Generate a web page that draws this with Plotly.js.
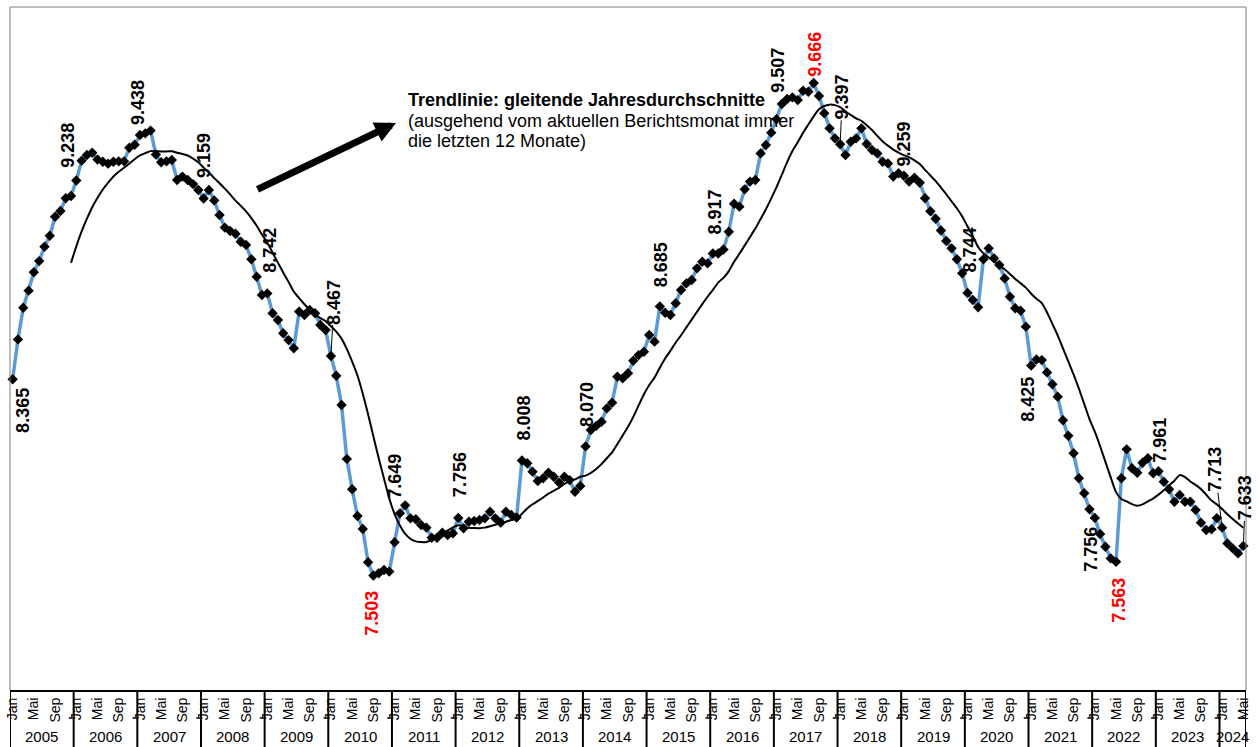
<!DOCTYPE html>
<html>
<head>
<meta charset="utf-8">
<script src="https://cdn.plot.ly/plotly-3.0.1.min.js"></script>
<style>html,body{margin:0;padding:0;background:#fff;}#chart{width:1259px;height:747px;}</style>
</head>
<body>
<div id="chart"></div>
<script>
// ---- DATA ----
const years = ['2005','2006','2007','2008','2009','2010','2011','2012','2013','2014','2015','2016','2017','2018','2019','2020','2021','2022','2023','2024'];
const monthNames = ['Jan','Feb','Mrz','Apr','Mai','Jun','Jul','Aug','Sep','Okt','Nov','Dez'];
const shownMonths = ['Jan','Mai','Sep'];

const v2005 = [8365, 8540, 8679, 8754, 8835, 8884, 8947, 8995, 9079, 9104, 9160, 9170];
const v2006 = [9238, 9325, 9350, 9360, 9330, 9320, 9312, 9320, 9322, 9322, 9382, 9395];
const v2007 = [9438, 9445, 9457, 9352, 9318, 9322, 9328, 9240, 9255, 9240, 9222, 9196];
const v2008 = [9159, 9196, 9150, 9086, 9031, 9016, 9004, 8969, 8955, 8892, 8815, 8735];
const v2009 = [8742, 8655, 8625, 8567, 8537, 8501, 8662, 8647, 8669, 8655, 8603, 8581];
const v2010 = [8467, 8380, 8252, 8015, 7882, 7764, 7707, 7561, 7503, 7513, 7527, 7520];
const v2011 = [7649, 7776, 7811, 7754, 7750, 7725, 7713, 7669, 7669, 7691, 7681, 7688];
const v2012 = [7756, 7710, 7739, 7742, 7747, 7754, 7783, 7754, 7735, 7783, 7769, 7758];
const v2013 = [8008, 7996, 7959, 7918, 7930, 7954, 7937, 7911, 7937, 7922, 7871, 7896];
const v2014 = [8070, 8142, 8160, 8178, 8237, 8262, 8376, 8369, 8391, 8446, 8471, 8486];
const v2015 = [8559, 8530, 8685, 8657, 8647, 8699, 8757, 8786, 8801, 8852, 8881, 8874];
const v2016 = [8917, 8917, 8935, 9013, 9136, 9123, 9199, 9233, 9240, 9357, 9394, 9448];
const v2017 = [9507, 9574, 9596, 9603, 9591, 9632, 9628, 9666, 9609, 9533, 9467, 9423];
const v2018 = [9397, 9350, 9408, 9423, 9467, 9398, 9372, 9357, 9320, 9313, 9255, 9270];
const v2019 = [9259, 9233, 9250, 9228, 9160, 9103, 9070, 9018, 8972, 8940, 8892, 8830];
const v2020 = [8744, 8713, 8681, 8892, 8940, 8896, 8867, 8808, 8727, 8677, 8666, 8596];
const v2021 = [8425, 8452, 8449, 8395, 8343, 8288, 8185, 8117, 8040, 7930, 7864, 7794];
const v2022 = [7756, 7685, 7629, 7578, 7563, 7930, 8057, 7974, 7954, 7998, 8018, 7952];
const v2023 = [7961, 7915, 7882, 7827, 7857, 7827, 7827, 7791, 7735, 7703, 7706, 7755];
const v2024 = [7713, 7644, 7622, 7600, 7633];

// months that carry a value label (index into the monthly series)
const labelIdx = [0, 12, 24, 36, 48, 60, 68, 72, 84, 96, 108, 122, 132, 144, 151, 156, 168, 180, 192, 204, 208, 216, 228, 232];
// extreme values shown in red
const extremeIdx = [68, 151, 208];

// ---- BUILD ----
const values = [].concat(v2005, v2006, v2007, v2008, v2009, v2010, v2011, v2012, v2013, v2014,
  v2015, v2016, v2017, v2018, v2019, v2020, v2021, v2022, v2023, v2024);
const N = values.length;
const xs = values.map((_, i) => i);
const monthLabel = xs.map(i => monthNames[i % 12] + ' ' + years[Math.floor(i / 12)]);

// trendline: gliding 12-month average (Excel moving-average trendline)
const trendX = [], trendY = [];
for (let i = 11; i < N; i++) {
  let s = 0;
  for (let k = i - 11; k <= i; k++) s += values[k];
  trendX.push(i); trendY.push(s / 12);
}

function fmt(v) {
  const t = Math.floor(v / 1000), r = v % 1000;
  return t + '.' + String(r).padStart(3, '0');
}

// label placement (pixel offsets of text centre from the point) and leader flag
const labelPlace = {
  0: [11, 31, 0], 12: [-8, -35, 0], 24: [-2, -33, 0], 36: [1, -43, 0], 48: [3, -43, 0],
  60: [3, -54, 1], 68: [-1, 38, 0], 72: [1, -66, 0], 84: [2, -43, 0], 96: [2, -43, 0],
  108: [2, -42, 0], 122: [2, -42, 0], 132: [2, -42, 0], 144: [2, -49, 0], 151: [1, -29, 0],
  156: [2, -47, 1], 168: [0, -32, 0], 180: [2, -43, 0], 192: [-4, 34, 0], 204: [-4, 31, 0],
  208: [3, 39, 0], 216: [2, -31, 0], 228: [-7, -58, 1], 232: [2, -48, 1]
};

const FONT = 'Liberation Sans, Arial, Helvetica, sans-serif';

const annotations = labelIdx.map(i => {
  const p = labelPlace[i];
  const red = extremeIdx.indexOf(i) >= 0;
  return {
    x: i, y: values[i], xref: 'x', yref: 'y',
    text: '<b>' + fmt(values[i]) + '</b>', textangle: -90,
    font: {family: FONT, size: 18, color: red ? '#ff0000' : '#000000'},
    showarrow: true, ax: p[0], ay: p[1], arrowhead: 0, arrowwidth: 1,
    arrowcolor: p[2] ? '#000000' : 'rgba(0,0,0,0)', standoff: 3, borderpad: 0
  };
});

// year labels in the boxes under the axis
const yAxisPx = 683, bandPx = 57;
years.forEach((yr, k) => {
  const first = k * 12;
  const last = Math.min(first + 11, N - 1);
  annotations.push({
    x: (first + last) / 2, xref: 'x', y: -46 / yAxisPx, yref: 'paper',
    text: yr, showarrow: false, xanchor: 'center', yanchor: 'middle',
    font: {family: FONT, size: 15, color: '#000'}
  });
});

// trendline annotation text + arrow
annotations.push({
  x: (406 - 10) / 1236, y: (690 - 100) / 683, xref: 'paper', yref: 'paper',
  text: '<b>Trendlinie: gleitende Jahresdurchschnitte</b>', showarrow: false,
  xanchor: 'left', yanchor: 'middle', font: {family: FONT, size: 18, color: '#000'}
});
annotations.push({
  x: (406 - 10) / 1236, y: (690 - 121) / 683, xref: 'paper', yref: 'paper',
  text: '(ausgehend vom aktuellen Berichtsmonat immer', showarrow: false,
  xanchor: 'left', yanchor: 'middle', font: {family: FONT, size: 18, color: '#000'}
});
annotations.push({
  x: (406 - 10) / 1236, y: (690 - 141) / 683, xref: 'paper', yref: 'paper',
  text: 'die letzten 12 Monate)', showarrow: false,
  xanchor: 'left', yanchor: 'middle', font: {family: FONT, size: 18, color: '#000'}
});
annotations.push({
  x: (396 - 10) / 1236, y: (690 - 123) / 683, xref: 'paper', yref: 'paper',
  text: '', showarrow: true, ax: -140, ay: 67, arrowhead: 2, arrowsize: 0.6,
  arrowwidth: 7, arrowcolor: '#000'
});

// year separators in the axis band, with their small tick marks
const shapes = [];
for (let k = 0; k <= years.length; k++) {
  const xb = Math.min(k * 12, N) - 0.5;
  shapes.push({type: 'line', xref: 'x', yref: 'paper', x0: xb, x1: xb, y0: 0, y1: -(bandPx + 5) / yAxisPx,
    line: {color: '#000', width: 2}});
  shapes.push({type: 'line', xref: 'x', yref: 'paper', x0: xb - 0.9, x1: xb + 0.3,
    y0: -28 / yAxisPx, y1: -28 / yAxisPx, line: {color: '#000', width: 1.5}});
}
// plot-area frame (left, top, right)
shapes.push({type: 'line', xref: 'paper', yref: 'paper', x0: 0, x1: 0, y0: 0, y1: 1, line: {color: '#7f7f7f', width: 1}});
shapes.push({type: 'line', xref: 'paper', yref: 'paper', x0: 0, x1: 1, y0: 1, y1: 1, line: {color: '#7f7f7f', width: 1}});
shapes.push({type: 'line', xref: 'paper', yref: 'paper', x0: 1, x1: 1, y0: 0, y1: 1, line: {color: '#7f7f7f', width: 1}});

const tickvals = xs.filter(i => shownMonths.indexOf(monthNames[i % 12]) >= 0);
const ticktext = tickvals.map(i => monthNames[i % 12]);

const traces = [
  {
    x: xs, y: values, text: monthLabel, type: 'scatter', mode: 'lines+markers',
    line: {color: '#5b9bd5', width: 3.5},
    marker: {symbol: 'diamond', size: 8, color: '#000'},
    hoverinfo: 'text+y', cliponaxis: false
  },
  {
    x: trendX, y: trendY, type: 'scatter', mode: 'lines',
    line: {color: '#000', width: 2, shape: 'spline', smoothing: 0.6},
    hoverinfo: 'skip'
  }
];

const layout = {
  width: 1259, height: 747,
  margin: {l: 10, r: 13, t: 7, b: 57, pad: 0},
  paper_bgcolor: '#fff', plot_bgcolor: '#fff',
  showlegend: false,
  xaxis: {
    range: [-0.5, N - 0.5], tickvals: tickvals, ticktext: ticktext, tickangle: -90,
    tickfont: {family: FONT, size: 14, color: '#000'}, ticks: '',
    showgrid: false, zeroline: false, showline: true, linecolor: '#000', linewidth: 2
  },
  yaxis: {
    range: [7000, 10000], showticklabels: false, showgrid: false, zeroline: false,
    ticks: '', showline: false
  },
  annotations: annotations,
  shapes: shapes
};

Plotly.newPlot('chart', traces, layout, {staticPlot: true, displayModeBar: false});
</script>
</body>
</html>
